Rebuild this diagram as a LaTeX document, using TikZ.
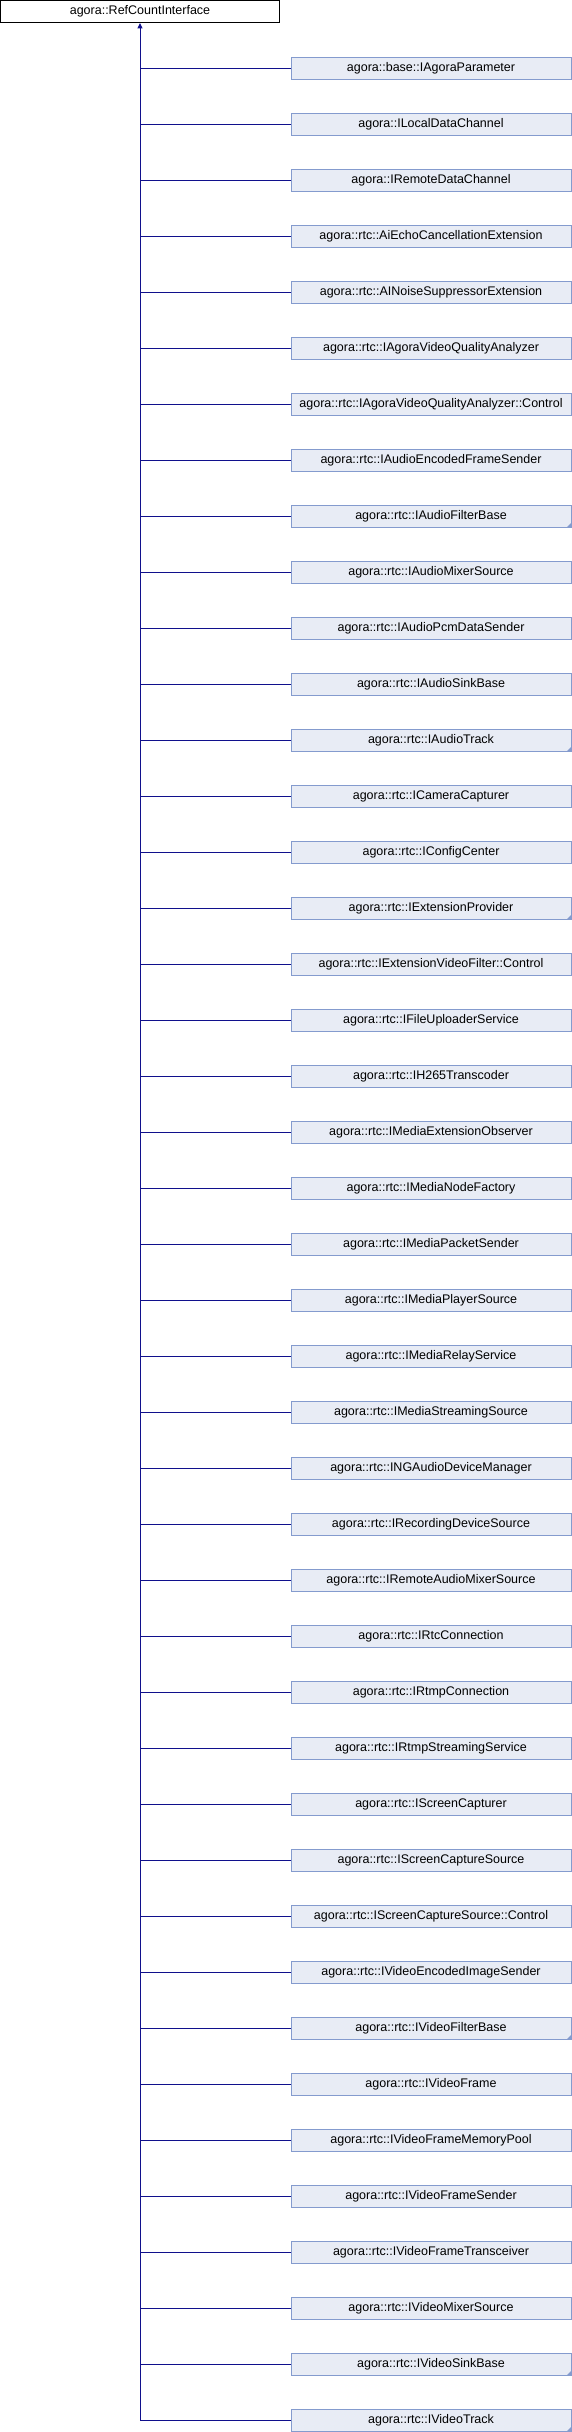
\documentclass[tikz,border=0pt]{standalone}
\usepackage{fontspec}
\setmainfont{Liberation Sans}
\usetikzlibrary{arrows.meta}
\definecolor{boxfill}{RGB}{232,236,245}
\definecolor{boxline}{RGB}{132,155,206}
\definecolor{linkblue}{RGB}{16,16,140}
\tikzset{
  rootbox/.style={draw=black, fill=white, line width=1pt, minimum width=279pt, minimum height=22.5pt, inner sep=0pt, outer sep=0pt, font=\fontsize{12.5}{14}\selectfont},
  childbox/.style={draw=boxline, fill=boxfill, line width=1pt, minimum width=280pt, minimum height=22.5pt, inner sep=0pt, outer sep=0pt, anchor=west, font=\fontsize{12.5}{14}\selectfont},
  link/.style={draw=linkblue, line width=1pt},
  marker/.style={fill=boxline, draw=none}
}
\begin{document}
\begin{tikzpicture}[x=1pt,y=1pt]
\useasboundingbox (0,0) rectangle (572,-2432);
\node[rootbox, anchor=north west] (root) at (0.5,-0.5) {agora::RefCountInterface};
\coordinate (tend) at (140,-2420.3);
\draw[link, {Triangle[width=5pt,length=5.5pt]}-] (root.south) -- (tend);
\foreach \nm/\mk [count=\i from 0] in {
agora::base::IAgoraParameter/0,
agora::ILocalDataChannel/0,
agora::IRemoteDataChannel/0,
agora::rtc::AiEchoCancellationExtension/0,
agora::rtc::AINoiseSuppressorExtension/0,
agora::rtc::IAgoraVideoQualityAnalyzer/0,
agora::rtc::IAgoraVideoQualityAnalyzer::Control/0,
agora::rtc::IAudioEncodedFrameSender/0,
agora::rtc::IAudioFilterBase/1,
agora::rtc::IAudioMixerSource/0,
agora::rtc::IAudioPcmDataSender/0,
agora::rtc::IAudioSinkBase/0,
agora::rtc::IAudioTrack/1,
agora::rtc::ICameraCapturer/0,
agora::rtc::IConfigCenter/0,
agora::rtc::IExtensionProvider/1,
agora::rtc::IExtensionVideoFilter::Control/0,
agora::rtc::IFileUploaderService/0,
agora::rtc::IH265Transcoder/0,
agora::rtc::IMediaExtensionObserver/0,
agora::rtc::IMediaNodeFactory/0,
agora::rtc::IMediaPacketSender/0,
agora::rtc::IMediaPlayerSource/0,
agora::rtc::IMediaRelayService/0,
agora::rtc::IMediaStreamingSource/0,
agora::rtc::INGAudioDeviceManager/0,
agora::rtc::IRecordingDeviceSource/0,
agora::rtc::IRemoteAudioMixerSource/0,
agora::rtc::IRtcConnection/0,
agora::rtc::IRtmpConnection/0,
agora::rtc::IRtmpStreamingService/0,
agora::rtc::IScreenCapturer/0,
agora::rtc::IScreenCaptureSource/0,
agora::rtc::IScreenCaptureSource::Control/0,
agora::rtc::IVideoEncodedImageSender/0,
agora::rtc::IVideoFilterBase/1,
agora::rtc::IVideoFrame/0,
agora::rtc::IVideoFrameMemoryPool/0,
agora::rtc::IVideoFrameSender/0,
agora::rtc::IVideoFrameTransceiver/0,
agora::rtc::IVideoMixerSource/0,
agora::rtc::IVideoSinkBase/1,
agora::rtc::IVideoTrack/1}
{
  \node[childbox] (c\i) at (291,{-68.3-56*\i}) {\nm};
  \draw[link] (c\i.west) -- (c\i.west -| root.south);
  \ifnum\mk=1
    \fill[marker] (c\i.south east) -- ++(-4.5,0) -- ++(4.5,4.5) -- cycle;
  \fi
}
\end{tikzpicture}
\end{document}
